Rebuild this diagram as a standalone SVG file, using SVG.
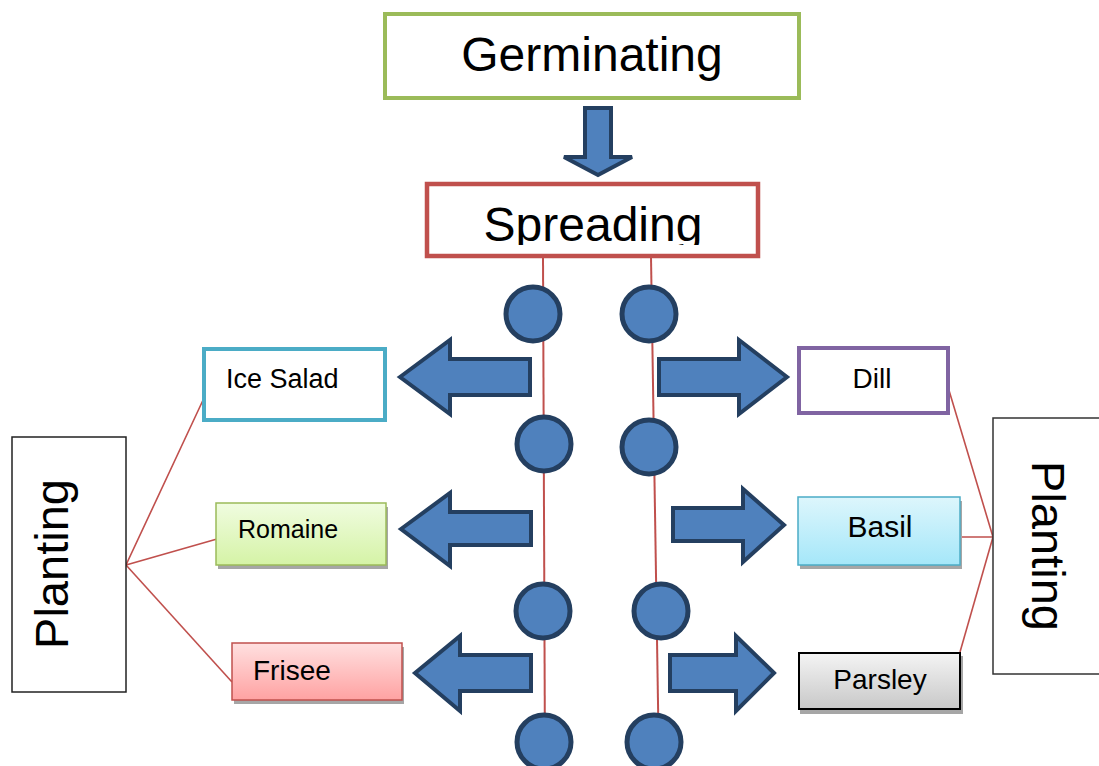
<svg xmlns="http://www.w3.org/2000/svg" width="1099" height="766" viewBox="0 0 1099 766">
<defs>
<linearGradient id="gGreen" x1="0" y1="0" x2="0" y2="1"><stop offset="0" stop-color="#F0FCE0"/><stop offset="1" stop-color="#D5F3A6"/></linearGradient>
<linearGradient id="gCyan" x1="0" y1="0" x2="0" y2="1"><stop offset="0" stop-color="#DDF6FC"/><stop offset="1" stop-color="#A5E7F9"/></linearGradient>
<linearGradient id="gPink" x1="0" y1="0" x2="0" y2="1"><stop offset="0" stop-color="#FFE0E0"/><stop offset="1" stop-color="#FFA2A2"/></linearGradient>
<linearGradient id="gGray" x1="0" y1="0" x2="0" y2="1"><stop offset="0" stop-color="#F4F4F4"/><stop offset="1" stop-color="#C8C8C8"/></linearGradient>
<clipPath id="spClip"><rect x="427" y="184" width="331" height="61"/></clipPath>
<style>
text{font-family:"Liberation Sans",Arial,sans-serif;fill:#000}
.big{font-size:48px;text-anchor:middle}
.lbl{font-size:27px}
.shape{fill:#4F81BD;stroke:#243F60;stroke-width:4;stroke-linejoin:miter}
.dot{fill:#4F81BD;stroke:#243F60;stroke-width:5}
.conn{stroke:#C0504D;stroke-width:1.6;fill:none}
.vline{stroke:#C0504D;stroke-width:2;fill:none}
.shadow{fill:#A6A6A6}
</style>
</defs>
<rect width="1099" height="766" fill="#fff"/>

<g id="connectors">
<line class="vline" x1="543" y1="257" x2="545" y2="766"/>
<line class="vline" x1="651" y1="257" x2="659" y2="766"/>
<polyline class="conn" points="204,398 126,565 217,539"/>
<line class="conn" x1="126" y1="565" x2="232" y2="682"/>
<polyline class="conn" points="948,387 993,537 960,537"/>
<line class="conn" x1="993" y1="537" x2="960" y2="652"/>
<path id="arrow-down" class="shape" d="M585,108 L611,108 L611,157 L632,157 L598,175 L564,157 L585,157 Z"/>
<path id="arrow-l1" class="shape" d="M400,377 L450,340 L450,359 L530,359 L530,395 L450,395 L450,414 Z"/>
<path id="arrow-l2" class="shape" d="M401,529 L450,493 L450,512 L531,512 L531,545 L450,545 L450,566 Z"/>
<path id="arrow-l3" class="shape" d="M415,673 L460,636 L460,655 L531,655 L531,691 L460,691 L460,711 Z"/>
<path id="arrow-r1" class="shape" d="M787,377 L739,340 L739,359 L659,359 L659,395 L739,395 L739,414 Z"/>
<path id="arrow-r2" class="shape" d="M784,525 L743,489 L743,508 L673,508 L673,541 L743,541 L743,562 Z"/>
<path id="arrow-r3" class="shape" d="M774,673 L736,636 L736,655 L670,655 L670,691 L736,691 L736,711 Z"/>
</g>

<g id="dots">
<circle class="dot" cx="533" cy="314" r="27"/>
<circle class="dot" cx="649" cy="314" r="27"/>
<circle class="dot" cx="544" cy="444" r="27"/>
<circle class="dot" cx="649" cy="447" r="27"/>
<circle class="dot" cx="543" cy="611" r="27"/>
<circle class="dot" cx="661" cy="611" r="27"/>
<circle class="dot" cx="544" cy="742" r="27"/>
<circle class="dot" cx="654" cy="742" r="27"/>
</g>

<g id="germinating">
<rect x="385" y="14" width="414" height="84" fill="#fff" stroke="#9BBB59" stroke-width="4"/>
<text class="big" x="592" y="71">Germinating</text>
</g>

<g id="spreading">
<rect x="427" y="184" width="331" height="72" fill="#fff" stroke="#C0504D" stroke-width="4.5"/>
<text class="big" x="593" y="241" clip-path="url(#spClip)">Spreading</text>
</g>

<g id="ice-salad">
<rect x="204" y="349" width="181" height="71" fill="#fff" stroke="#4BACC6" stroke-width="4"/>
<text class="lbl" x="226" y="388">Ice Salad</text>
</g>

<g id="romaine">
<rect class="shadow" x="218" y="507" width="170" height="62"/>
<rect x="216" y="503" width="170" height="62" fill="url(#gGreen)" stroke="#9BBB59" stroke-width="1.5"/>
<text x="238" y="538" style="font-size:25px">Romaine</text>
</g>

<g id="frisee">
<rect class="shadow" x="234" y="647" width="170" height="57"/>
<rect x="232" y="643" width="170" height="57" fill="url(#gPink)" stroke="#C0504D" stroke-width="1.5"/>
<text x="253" y="680" style="font-size:28px">Frisee</text>
</g>

<g id="dill">
<rect x="799" y="348" width="149" height="65" fill="#fff" stroke="#8064A2" stroke-width="4"/>
<text x="872" y="388" style="font-size:28px;text-anchor:middle">Dill</text>
</g>

<g id="basil">
<rect class="shadow" x="800" y="501" width="162" height="68"/>
<rect x="798" y="497" width="162" height="68" fill="url(#gCyan)" stroke="#4BACC6" stroke-width="1.5"/>
<text x="880" y="537" style="font-size:30px;text-anchor:middle">Basil</text>
</g>

<g id="parsley">
<rect class="shadow" x="800" y="656" width="163" height="58"/>
<rect x="799" y="653" width="161" height="56" fill="url(#gGray)" stroke="#000" stroke-width="2"/>
<text x="880" y="689" style="font-size:28px;text-anchor:middle">Parsley</text>
</g>

<g id="planting-left">
<rect x="12" y="437" width="114" height="255" fill="#fff" stroke="#222" stroke-width="1.5"/>
<text transform="translate(68,564) rotate(-90)" style="font-size:47px;text-anchor:middle">Planting</text>
</g>

<g id="planting-right">
<rect x="993" y="418" width="120" height="256" fill="#fff" stroke="#333" stroke-width="1.5"/>
<text transform="translate(1032,546) rotate(90)" style="font-size:47px;text-anchor:middle">Planting</text>
</g>
</svg>
